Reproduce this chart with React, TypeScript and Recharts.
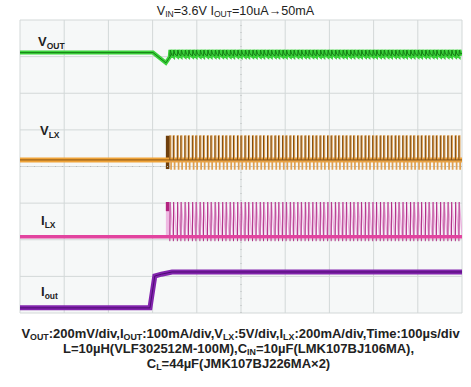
import React from 'react'
import { ComposedChart, Line, XAxis, YAxis, CartesianGrid, ReferenceLine, ReferenceArea } from 'recharts'

// scope screen: 10 divisions across, 8 divisions high
const xTicks = [0, 1, 2, 3, 4, 5, 6, 7, 8, 9, 10]
const yTicks = [0, 1, 2, 3, 4, 5, 6, 7, 8]

// switching edges after the load step (in divisions)
const pulseTimes = [
  3.39, 3.47, 3.56, 3.64, 3.73, 3.81, 3.90, 3.98, 4.07, 4.15, 4.24, 4.32, 4.41, 4.49, 4.58, 4.66,
  4.75, 4.83, 4.92, 5.00, 5.09, 5.17, 5.26, 5.34, 5.43, 5.51, 5.60, 5.68, 5.77, 5.85, 5.94, 6.02,
  6.11, 6.19, 6.28, 6.36, 6.45, 6.53, 6.62, 6.70, 6.79, 6.87, 6.96, 7.04, 7.13, 7.21, 7.30, 7.38,
  7.47, 7.55, 7.64, 7.72, 7.81, 7.89, 7.98, 8.06, 8.15, 8.23, 8.32, 8.40, 8.49, 8.57, 8.66, 8.74,
  8.83, 8.91, 9.00, 9.08, 9.17, 9.25, 9.34, 9.42, 9.51, 9.59, 9.68, 9.76, 9.85, 9.93,
]

// VOUT (green) corners before the switching starts
const voutStepX = [0, 3.01, 3.30, 3.44]
const voutStepY = [7.11, 7.11, 6.83, 7.08]
const voutRipple = [7.02, 7.18, 7.07] // low, spike, settle

// VLX (orange) levels
const vlxLevels = { base: 4.18, high: 4.84, low: 3.93 }
const vlxPulseWidth = 0.022
// ILX (pink) levels
const ilxLevels = { base: 2.08, peak: 3.03, dip: 1.96 }
const ilxFall = 0.075
// Iout (purple) step
const ioutX = [0, 2.94, 3.05, 3.20, 3.44, 10]
const ioutY = [0.14, 0.14, 1.01, 1.06, 1.12, 1.12]

const burst = { from: 3.30, to: 3.38 }

type P = { x: number; y: number | null }

const voutData: P[] = [
  ...voutStepX.map((x, i) => ({ x, y: voutStepY[i] })),
  ...pulseTimes.flatMap((t) => [
    { x: t, y: voutRipple[0] },
    { x: t + 0.012, y: voutRipple[1] },
    { x: t + 0.035, y: voutRipple[2] },
  ]),
  { x: 10, y: 7.09 },
]

const vlxBand: P[] = [{ x: 0, y: vlxLevels.base }, { x: 10, y: vlxLevels.base }]
const vlxPulses: P[] = pulseTimes.flatMap((t) => [
  { x: t, y: vlxLevels.base },
  { x: t, y: vlxLevels.high },
  { x: t + vlxPulseWidth, y: vlxLevels.high },
  { x: t + vlxPulseWidth, y: vlxLevels.low },
  { x: t + vlxPulseWidth + 0.012, y: vlxLevels.low },
  { x: t + vlxPulseWidth + 0.012, y: vlxLevels.base },
])
const vlxEdges: P[] = pulseTimes.flatMap((t) => [
  { x: t, y: vlxLevels.base },
  { x: t, y: vlxLevels.high },
  { x: t, y: null },
])

const ilxBand: P[] = [{ x: 0, y: ilxLevels.base }, { x: 10, y: ilxLevels.base }]
const ilxRamps: P[] = pulseTimes.flatMap((t) => [
  { x: t, y: ilxLevels.base },
  { x: t + 0.008, y: ilxLevels.peak },
  { x: t + ilxFall, y: ilxLevels.base },
])
const ilxEdges: P[] = pulseTimes.flatMap((t) => [
  { x: t, y: ilxLevels.dip },
  { x: t + 0.006, y: ilxLevels.peak },
  { x: t + 0.006, y: null },
])

const ioutData: P[] = ioutX.map((x, i) => ({ x, y: ioutY[i] }))

const FONT = '"Liberation Sans", Arial, sans-serif'

function Sig({ main, sub, left, top }: { main: string; sub: string; left: number; top: number }) {
  return (
    <div style={{ position: 'absolute', left, top, fontFamily: FONT, fontSize: 13, fontWeight: 700, color: '#222', lineHeight: 1 }}>
      {main}
      <span style={{ fontSize: 8.5, verticalAlign: -3 }}>{sub}</span>
    </div>
  )
}

const sub = (s: string) => <span style={{ fontSize: '0.68em', verticalAlign: -2, lineHeight: 0 }}>{s}</span>

export default function App() {
  const line = (data: P[], stroke: string, width: number, key: string) => (
    <Line
      key={key}
      data={data}
      dataKey="y"
      type="linear"
      stroke={stroke}
      strokeWidth={width}
      dot={false}
      activeDot={false}
      connectNulls={false}
      isAnimationActive={false}
    />
  )

  return (
    <div style={{ position: 'absolute', left: 0, top: 0, width: 471, height: 387, background: '#fff' }}>
      <ComposedChart width={471} height={387} margin={{ top: 20, right: 9, left: 20, bottom: 74 }}>
        <CartesianGrid stroke="#d3d8d8" fill="#f6f8f8" strokeWidth={1} />
        <XAxis type="number" dataKey="x" domain={[0, 10]} ticks={xTicks} hide allowDataOverflow />
        <YAxis type="number" domain={[0, 8]} ticks={yTicks} hide allowDataOverflow />
        <ReferenceLine x={5} stroke="#b8bcbc" strokeDasharray="1 6" />
        <ReferenceLine y={4} stroke="#b8bcbc" strokeDasharray="1 6" />
        {line(voutData, '#3bd23b', 4, 'vout')}
        {line(voutData, '#157f15', 1, 'voutc')}
        {line(vlxBand, '#efa43a', 5, 'vlxb')}
        {line(vlxPulses, '#e0a050', 1.2, 'vlxp')}
        {line(vlxEdges, '#7a4a12', 1, 'vlxe')}
        {line(vlxBand, '#8a5210', 1, 'vlxc')}
        <ReferenceArea x1={burst.from} x2={burst.to} y1={vlxLevels.low} y2={vlxLevels.high} fill="#6e3f0c" fillOpacity={1} stroke="none" />
        {line(ilxRamps, '#ecb2de', 1.4, 'ilxr')}
        {line(ilxEdges, '#b02f86', 1, 'ilxe')}
        {line(ilxBand, '#e2449f', 3.5, 'ilxb')}
        <ReferenceArea x1={burst.from} x2={burst.to} y1={ilxLevels.base} y2={ilxLevels.peak} fill="#efb9e2" fillOpacity={1} stroke="none" />
        <ReferenceArea x1={burst.from} x2={burst.to} y1={2.78} y2={ilxLevels.peak} fill="#b3237f" fillOpacity={1} stroke="none" />
        {line(ioutData, '#8224ad', 5, 'iout')}
        {line(ioutData, '#4d0b72', 1, 'ioutc')}
      </ComposedChart>

      <div style={{ position: 'absolute', left: 0, width: 471, top: 4, textAlign: 'center', fontFamily: FONT, fontSize: 12.6, color: '#222' }}>
        V{sub('IN')}=3.6V I{sub('OUT')}=10uA→50mA
      </div>

      <Sig main="V" sub="OUT" left={38} top={35} />
      <Sig main="V" sub="LX" left={40} top={124} />
      <Sig main="I" sub="LX" left={41} top={214} />
      <Sig main="I" sub="out" left={41} top={285} />

      <div style={{ position: 'absolute', left: 3, width: 471, top: 326, textAlign: 'center', fontFamily: FONT, fontSize: 13, fontWeight: 700, color: '#222', lineHeight: '15px' }}>
        <div style={{ marginLeft: 4 }}>
          V{sub('OUT')}:200mV/div,I{sub('OUT')}:100mA/div,V{sub('LX')}:5V/div,I{sub('LX')}:200mA/div,Time:100µs/div
        </div>
        <div>L=10µH(VLF302512M-100M),C{sub('IN')}=10µF(LMK107BJ106MA),</div>
        <div>C{sub('L')}=44µF(JMK107BJ226MA×2)</div>
      </div>
    </div>
  )
}
